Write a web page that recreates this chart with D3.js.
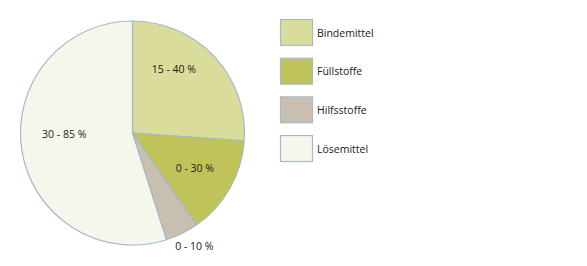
<!DOCTYPE html>
<html><head><meta charset="utf-8">
<script src="https://cdn.jsdelivr.net/npm/d3@7"></script>
<style>body{margin:0;background:#fff}svg{display:block}text{font-family:"Open Sans",sans-serif;fill:#1a1a1a}</style>
</head><body><svg id="c" width="587" height="266"></svg>
<script>
const categories = ["Bindemittel","Füllstoffe","Hilfsstoffe","Lösemittel"];
const values = [26.1, 14.2, 4.8, 54.9];
const labels = ["15 - 40 %","0 - 30 %","0 - 10 %","30 - 85 %"];
const colors = ["#d9dc9b","#bfc35a","#c9bfb0","#f5f7ec"];
const stroke = "#a5bac6";

const svg = d3.select("#c");
const cx = 132.5, cy = 133, r = 112;
const pie = d3.pie().sort(null).value(d => d)(values);
const arc = d3.arc().innerRadius(0).outerRadius(r);
const g = svg.append("g").attr("transform", `translate(${cx},${cy})`);
g.selectAll("path").data(pie).join("path")
  .attr("d", arc).attr("fill", (d,i) => colors[i])
  .attr("stroke", stroke).attr("stroke-width", 1.2).attr("stroke-linejoin","round");

// label placement: fraction along slice angle, radius fraction
const labelLayout = [[0.35,0.68],[0.5,0.64],[0.36,1.15],[0.54,0.61]];
g.selectAll("text.l").data(pie).join("text").attr("class","l")
  .attr("transform", (d,i) => {
    const a = d.startAngle + (d.endAngle - d.startAngle) * labelLayout[i][0];
    const rr = r * labelLayout[i][1];
    return `translate(${rr*Math.sin(a)},${-rr*Math.cos(a)})`;
  })
  .attr("text-anchor","middle").attr("dy","0.35em")
  .style("font-size","10.5px").text((d,i) => labels[i]);

const y = d3.scaleBand().domain(categories).range([19, 161]).paddingInner(0.33).paddingOuter(0);
const lg = svg.append("g");
lg.selectAll("rect").data(categories).join("rect")
  .attr("x", 280.5).attr("y", d => y(d)+0.5).attr("width", 32).attr("height", y.bandwidth())
  .attr("fill", (d,i) => colors[i]).attr("stroke", stroke).attr("stroke-width", 1.2);
lg.selectAll("text").data(categories).join("text")
  .attr("x", 317).attr("y", d => y(d) + y.bandwidth()/2 + 1).attr("dy","0.35em")
  .style("font-size","10.5px").text(d => d);
</script></body></html>
